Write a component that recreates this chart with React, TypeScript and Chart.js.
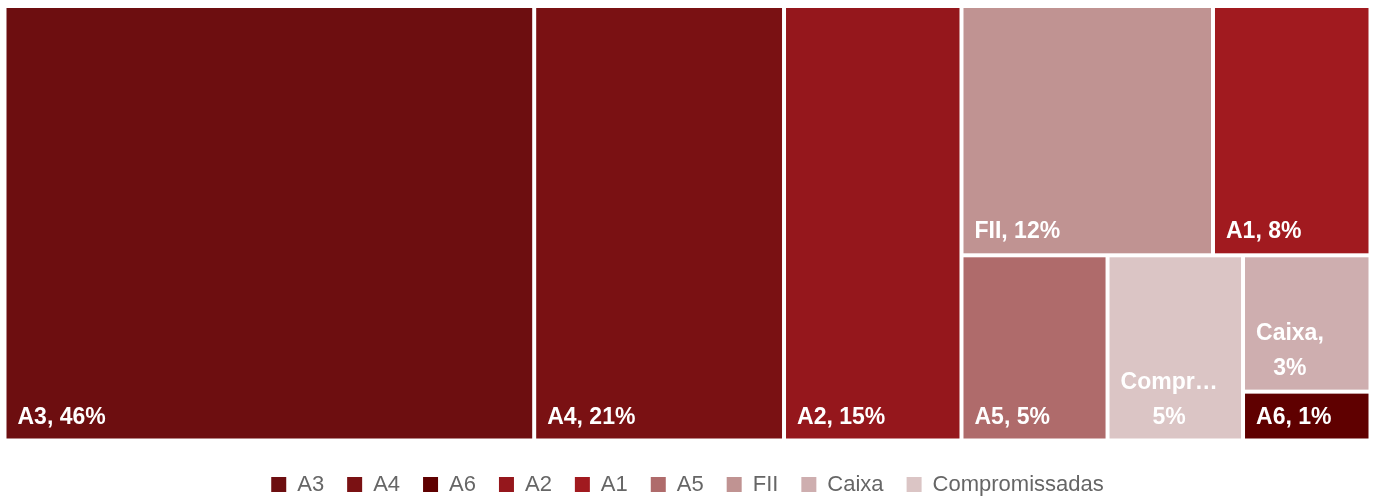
import React, { useEffect, useRef } from 'react';
import { Chart, registerables } from 'chart.js';

Chart.register(...registerables);

// ---- data ----
const categories = ['A3', 'A4', 'A2', 'FII', 'A1', 'A5', 'Compromissadas', 'Caixa', 'A6'];
// relative cell sizes
const areaWeights = [38.8, 18.3, 13.0, 10.57, 6.62, 4.56, 4.23, 2.93, 1.05];
// shares printed in the labels
const sharePercents = [46, 21, 15, 12, 8, 5, 5, 3, 1];
const cellColors = ['#6D0E10', '#7A1113', '#95171C', '#C09392', '#A11A1F', '#AF6B6B', '#DBC5C5', '#CEAEAF', '#5F0000'];
const legendOrder = ['A3', 'A4', 'A6', 'A2', 'A1', 'A5', 'FII', 'Caixa', 'Compromissadas'];
// nesting of the treemap strips (alternating horizontal / vertical split by depth)
type Group = string | Group[];
const layoutGroups: Group[] = ['A3', 'A4', 'A2', [['FII', 'A1'], ['A5', 'Compromissadas', ['Caixa', 'A6']]]];

const GAP = 4;
const FONT = '"Liberation Sans", Arial, Helvetica, sans-serif';

function weightOf(n: Group): number {
  if (typeof n === 'string') return areaWeights[categories.indexOf(n)];
  return n.reduce((s: number, c) => s + weightOf(c), 0);
}

type Cell = { name: string; x0: number; y0: number; x1: number; y1: number };

function layoutNode(n: Group, x0: number, y0: number, x1: number, y1: number, horizontal: boolean, out: Cell[]) {
  if (typeof n === 'string') {
    out.push({ name: n, x0, y0, x1, y1 });
    return;
  }
  const total = weightOf(n);
  let pos = horizontal ? x0 : y0;
  for (const c of n) {
    const f = weightOf(c) / total;
    if (horizontal) {
      const nx = pos + (x1 - x0) * f;
      layoutNode(c, pos, y0, nx, y1, !horizontal, out);
      pos = nx;
    } else {
      const ny = pos + (y1 - y0) * f;
      layoutNode(c, x0, pos, x1, ny, !horizontal, out);
      pos = ny;
    }
  }
}

function fitText(ctx: CanvasRenderingContext2D, text: string, maxW: number) {
  if (ctx.measureText(text).width <= maxW) return text;
  let t = text;
  while (t.length > 1 && ctx.measureText(t + '…').width > maxW) t = t.slice(0, -1);
  return t + '…';
}

function wrapLabel(ctx: CanvasRenderingContext2D, text: string, maxW: number): string[] {
  if (ctx.measureText(text).width <= maxW) return [text];
  const words = text.split(' ');
  const lines: string[] = [];
  let cur = '';
  for (const w of words) {
    const tryLine = cur ? cur + ' ' + w : w;
    if (!cur || ctx.measureText(tryLine).width <= maxW) {
      cur = tryLine;
    } else {
      lines.push(cur);
      cur = w;
    }
    if (!cur.includes(' ') && ctx.measureText(cur).width > maxW) {
      // single word too wide
    }
  }
  if (cur) lines.push(cur);
  return lines.map((l) => fitText(ctx, l, maxW));
}

const treemapPlugin = {
  id: 'treemapCells',
  afterDatasetsDraw(chart: any) {
    const { ctx } = chart;
    const xs = chart.scales.x;
    const ys = chart.scales.y;
    const cells: Cell[] = [];
    layoutNode(layoutGroups, 0, 0, 1, 1, true, cells);
    ctx.save();
    for (const c of cells) {
      const i = categories.indexOf(c.name);
      const left = xs.getPixelForValue(c.x0) + GAP / 2;
      const right = xs.getPixelForValue(c.x1) - GAP / 2;
      const top = ys.getPixelForValue(c.y0) + GAP / 2;
      const bottom = ys.getPixelForValue(c.y1) - GAP / 2;
      ctx.fillStyle = cellColors[i];
      ctx.fillRect(left, top, right - left, bottom - top);

      ctx.font = `bold 23px ${FONT}`;
      ctx.fillStyle = '#FFFFFF';
      ctx.textBaseline = 'alphabetic';
      ctx.textAlign = 'center';
      const label = `${c.name}, ${sharePercents[i]}%`;
      const lines = wrapLabel(ctx, label, right - left - 24);
      const blockW = Math.max(...lines.map((l) => ctx.measureText(l).width));
      const cx = left + 11 + blockW / 2;
      lines.forEach((l, k) => {
        const base = bottom - 15 - (lines.length - 1 - k) * 35;
        ctx.fillText(l, cx, base);
      });
    }
    ctx.restore();
  },
};

export default function App() {
  const ref = useRef<HTMLCanvasElement | null>(null);
  useEffect(() => {
    if (!ref.current) return;
    const chart = new Chart(ref.current, {
      type: 'scatter',
      data: { datasets: [{ label: 'carteira', data: [] }] },
      options: {
        responsive: false,
        animation: false,
        layout: { padding: { left: 4.5, right: 4.5, top: 6, bottom: 0 } },
        scales: {
          x: { type: 'linear', min: 0, max: 1, display: false },
          y: { type: 'linear', min: 0, max: 1, reverse: true, display: false },
        },
        plugins: {
          tooltip: { enabled: false },
          legend: {
            position: 'bottom',
            maxHeight: 60.5,
            onClick: () => {},
            title: { display: true, text: '', padding: { top: 8.8, bottom: 0 }, font: { size: 1 } },
            labels: {
              boxWidth: 15,
              boxHeight: 15,
              padding: 23,
              color: '#666666',
              font: { family: FONT, size: 22 },
              generateLabels: () =>
                legendOrder.map((name, k) => {
                  const col = cellColors[categories.indexOf(name)];
                  return {
                    text: name,
                    fillStyle: col,
                    strokeStyle: col,
                    lineWidth: 0,
                    hidden: false,
                    datasetIndex: 0,
                    index: k,
                  };
                }),
            },
          },
        },
      },
      plugins: [treemapPlugin],
    } as any);
    return () => chart.destroy();
  }, []);
  return (
    <div style={{ position: 'absolute', left: 0, top: 0, width: 1375, height: 501, background: '#FFFFFF' }}>
      <canvas ref={ref} width={1375} height={501} style={{ display: 'block' }} />
    </div>
  );
}
